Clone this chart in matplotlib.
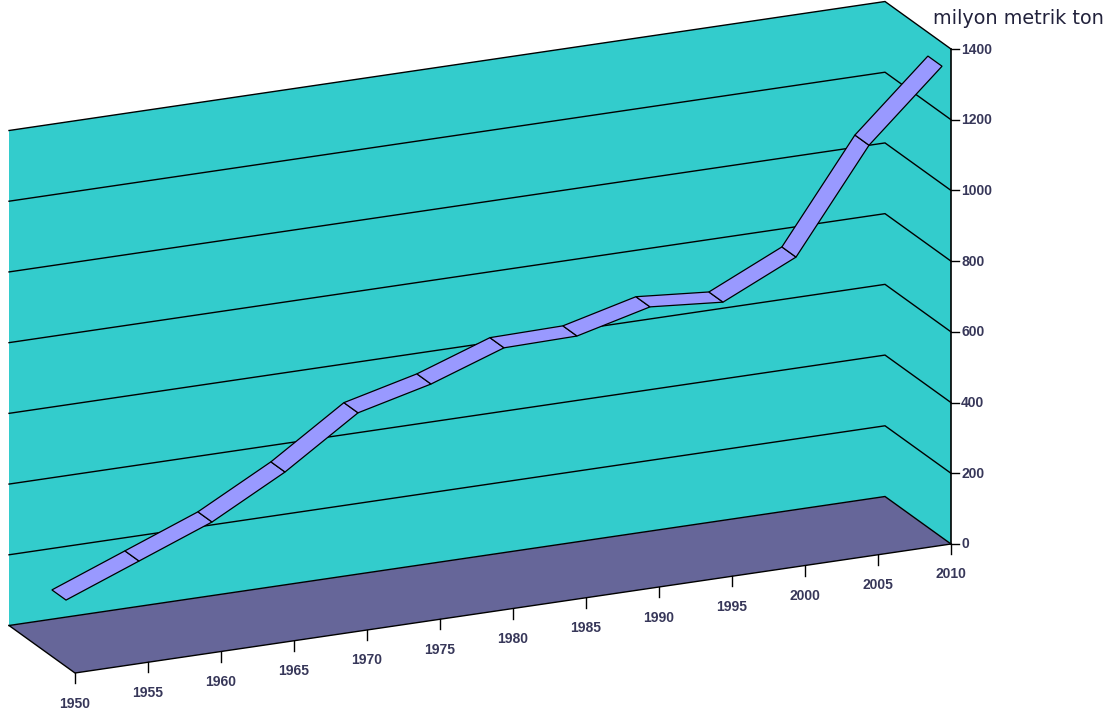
import numpy as np
import matplotlib
matplotlib.use("Agg")
import matplotlib.pyplot as plt

years = [1950, 1955, 1960, 1965, 1970, 1975, 1980, 1985, 1990, 1995, 2000, 2005, 2010]
values = [188, 268, 348, 459, 596, 647, 719, 722, 774, 757, 854, 1140, 1333]
value_ticks = [0, 200, 400, 600, 800, 1000, 1200, 1400]
unit_label = "milyon metrik ton"

WALL = "#33CCCC"
FLOOR = "#666699"
RIBBON = "#9999FF"
TEXT = "#14143c"
LW = 1.0
TICK_FONT = "Liberation Sans"

# oblique projection of the old 3d chart: year, value, depth -> pixels
X0, Y0 = 75.0, 673.0
PX_YEAR = 876.0 / 60
SLOPE_YEAR = -129.0 / 60
PX_VALUE = 495.0 / 1400
DEPTH_X, DEPTH_Y = -66.0, -47.5
RIBBON_FRONT, RIBBON_BACK = 0.136, 0.35


def project(year, value, depth=0.0):
    year = np.asarray(year, dtype=float)
    value = np.asarray(value, dtype=float)
    depth = np.asarray(depth, dtype=float)
    t = year - years[0]
    x = X0 + PX_YEAR * t + DEPTH_X * depth
    y = Y0 + SLOPE_YEAR * t - PX_VALUE * value + DEPTH_Y * depth
    return x, y


def poly(ax, corners, color, zorder):
    xs, ys = zip(*[project(*c) for c in corners])
    ax.fill(xs, ys, facecolor=color, edgecolor="none", zorder=zorder)


fig = plt.figure(figsize=(11.19, 7.18), dpi=100)
ax = fig.add_axes([0, 0, 1, 1])
ax.set_xlim(0, 1119)
ax.set_ylim(718, 0)
ax.axis("off")

y_first, y_last = years[0], years[-1]
v_top = value_ticks[-1]

# walls and floor
poly(ax, [(y_first, 0, 1), (y_last, 0, 1), (y_last, 0, 0), (y_first, 0, 0)], FLOOR, 1)
poly(ax, [(y_first, 0, 1), (y_first, v_top, 1), (y_last, v_top, 1), (y_last, 0, 1)], WALL, 1)
poly(ax, [(y_last, 0, 1), (y_last, v_top, 1), (y_last, v_top, 0), (y_last, 0, 0)], WALL, 1)

# grid lines run along back wall and then down the right wall
for v in value_ticks:
    xs, ys = project([y_first, y_last, y_last], [v, v, v], [1, 1, 0])
    ax.plot(xs, ys, color="black", lw=LW, zorder=2, solid_joinstyle="miter")

# floor front edge and left edge
xs, ys = project([y_first, y_first, y_last], [0, 0, 0], [1, 0, 0])
ax.plot(xs, ys, color="black", lw=LW, zorder=2)

# value axis
xs, ys = project([y_last, y_last], [0, v_top])
ax.plot(xs, ys, color="black", lw=1.2, zorder=3)
for v in value_ticks:
    x, y = project(y_last, v)
    ax.plot([x, x + 8], [y, y], color="black", lw=LW, zorder=3)
    ax.text(x + 10, y + 0.5, str(v), ha="left", va="center", fontsize=10,
            family=TICK_FONT, color=TEXT, weight="bold", alpha=0.85)

# year axis
for yr in years:
    x, y = project(yr, 0)
    ax.plot([x, x], [y, y + 10], color="black", lw=LW, zorder=3)
    ax.text(x, y + 30.5, str(yr), ha="center", va="center", fontsize=10,
            family=TICK_FONT, color=TEXT, weight="bold", alpha=0.85)

# the ribbon, one quad per period
for i in range(len(years) - 1):
    a, b = years[i], years[i + 1]
    va, vb = values[i], values[i + 1]
    corners = [(a, va, RIBBON_FRONT), (b, vb, RIBBON_FRONT), (b, vb, RIBBON_BACK), (a, va, RIBBON_BACK)]
    xs, ys = zip(*[project(*c) for c in corners])
    ax.fill(xs, ys, facecolor=RIBBON, edgecolor="black", lw=0.9, zorder=4)

ax.text(933, 18, unit_label, ha="left", va="center", fontsize=13.9,
        family="DejaVu Sans", color="#22223c")

fig.savefig("out.png", dpi=100)
